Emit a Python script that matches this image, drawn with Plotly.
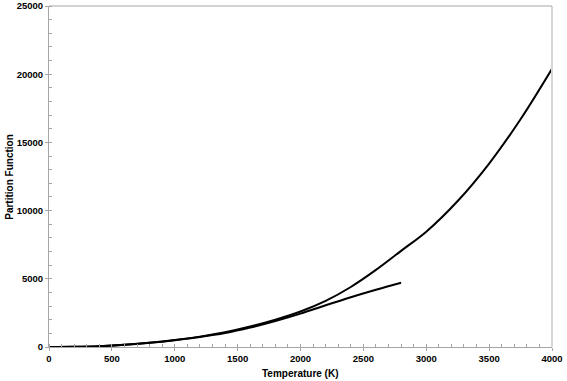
import plotly.graph_objects as go

# Data
temp_upper = [0, 200, 400, 600, 800, 1000, 1200, 1400, 1600, 1800, 2000, 2200,
              2400, 2600, 2800, 3000, 3250, 3500, 3750, 4000]
pf_upper = [0, 12, 60, 160, 310, 510, 760, 1080, 1500, 2000, 2600, 3380,
            4400, 5650, 7050, 8450, 10700, 13450, 16700, 20400]

temp_lower = [0, 200, 400, 600, 800, 1000, 1200, 1400, 1600, 1800, 2000, 2200,
              2400, 2600, 2800]
pf_lower = [0, 12, 60, 160, 310, 500, 730, 1020, 1420, 1900, 2450, 3060,
            3650, 4200, 4715]

x_ticks = [0, 500, 1000, 1500, 2000, 2500, 3000, 3500, 4000]
y_ticks = [0, 5000, 10000, 15000, 20000, 25000]
x_title = "Temperature (K)"
y_title = "Partition Function"

axis_gray = "#a6a6a6"
font_family = "Liberation Sans, Arial, sans-serif"

fig = go.Figure()
fig.add_trace(go.Scatter(x=temp_upper, y=pf_upper, mode="lines",
                         line=dict(color="black", width=2, shape="spline", smoothing=1),
                         showlegend=False))
fig.add_trace(go.Scatter(x=temp_lower, y=pf_lower, mode="lines",
                         line=dict(color="black", width=2, shape="spline", smoothing=1),
                         showlegend=False))

title_font = dict(size=10, weight="bold", family=font_family, color="black")

fig.update_layout(
    width=567, height=381,
    margin=dict(l=49, r=15, t=6, b=34),
    paper_bgcolor="white", plot_bgcolor="white",
    font=dict(family=font_family, color="black"),
    xaxis=dict(
        range=[0, 4000], tickvals=x_ticks, ticktext=[str(v) for v in x_ticks],
        showgrid=False, zeroline=False,
        showline=True, linecolor=axis_gray, linewidth=1,
        ticks="outside", ticklen=3, tickcolor=axis_gray, tickwidth=1,
        minor=dict(ticks="inside", dtick=100, ticklen=3, tickcolor=axis_gray, tickwidth=1, showgrid=False),
        tickfont=dict(size=9.5, weight="bold", family=font_family),
        automargin=False,
    ),
    yaxis=dict(
        range=[0, 25000], tickvals=y_ticks, ticktext=[str(v) for v in y_ticks],
        showgrid=False, zeroline=False,
        showline=True, linecolor=axis_gray, linewidth=1,
        ticks="outside", ticklen=3, tickcolor=axis_gray, tickwidth=1,
        minor=dict(ticks="inside", dtick=1000, ticklen=3, tickcolor=axis_gray, tickwidth=1, showgrid=False),
        tickfont=dict(size=9.5, weight="bold", family=font_family),
        automargin=False,
    ),
    annotations=[
        dict(text=x_title, xref="paper", yref="paper", x=0.5, y=-0.079,
             xanchor="center", yanchor="middle", showarrow=False, font=title_font),
        dict(text=y_title, xref="paper", yref="paper", x=-0.079, y=0.5,
             xanchor="center", yanchor="middle", textangle=-90, showarrow=False, font=title_font),
    ],
    shapes=[dict(type="line", xref="paper", yref="paper", x0=1, x1=1, y0=0, y1=1,
                 line=dict(color="#d6d6d6", width=2)),
            dict(type="line", xref="paper", yref="paper", x0=0, x1=1, y0=1, y1=1,
                 line=dict(color=axis_gray, width=1))],
)

fig.write_html("out.html", config={"displayModeBar": False},
               post_script="document.body.style.margin='0px';document.body.style.padding='0px';")
